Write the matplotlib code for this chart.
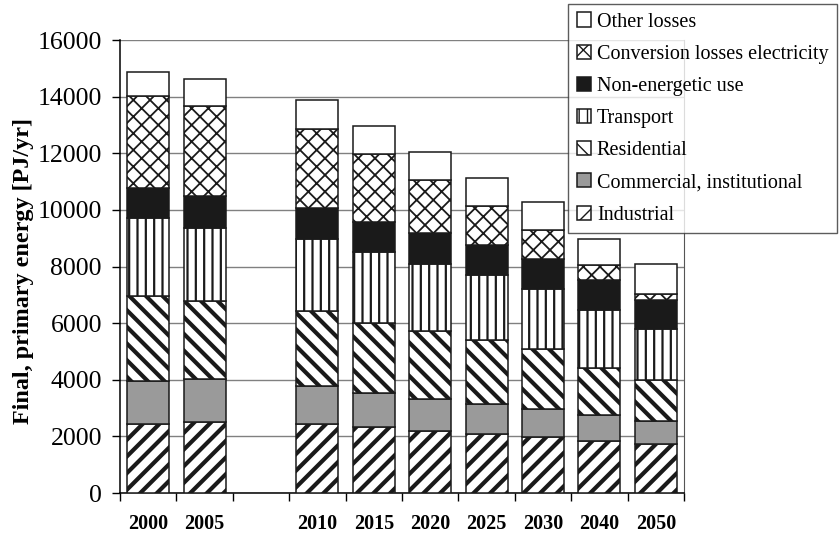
import matplotlib
matplotlib.use('Agg')
import matplotlib.pyplot as plt
import numpy as np

# categories (empty slot between 2005 and 2010 as in the original)
categories = ['2000', '2005', '', '2010', '2015', '2020', '2025', '2030', '2040', '2050']

# PJ/yr
industrial   = [2440, 2520, 2440, 2330, 2190, 2080, 1990, 1830, 1730]
commercial   = [1530, 1500, 1340, 1190, 1140, 1080,  990,  910,  800]
residential  = [3000, 2770, 2660, 2480, 2390, 2240, 2100, 1670, 1450]
transport    = [2730, 2570, 2520, 2500, 2380, 2310, 2130, 2050, 1830]
non_energetic = [1080, 1140, 1120, 1070, 1080, 1050, 1050, 1050, 1000]
conversion   = [3240, 3180, 2790, 2400, 1880, 1370, 1020,  530,  220]
other_losses = [ 850,  950, 1000, 1000,  990,  990, 1010,  920, 1050]

series = [
    ('Industrial', industrial, 'white', '//', 3.0),
    ('Commercial, institutional', commercial, '#9a9a9a', None, 1.0),
    ('Residential', residential, 'white', '\\\\', 3.0),
    ('Transport', transport, 'white', '||', 1.6),
    ('Non-energetic use', non_energetic, '#1a1a1a', None, 1.0),
    ('Conversion losses electricity', conversion, 'white', 'xx', 1.3),
    ('Other losses', other_losses, 'white', None, 1.0),
]

plt.rcParams['font.family'] = ['Liberation Serif', 'DejaVu Serif']

fig = plt.figure(figsize=(8.39, 5.34), dpi=100)
ax = fig.add_axes([120/839, 41/534, 564/839, 453/534])

x = [i for i, c in enumerate(categories) if c]
bottom = np.zeros(len(x))
handles = []
for name, vals, color, hatch, hlw in series:
    plt.rcParams['hatch.linewidth'] = hlw
    bars = ax.bar(x, vals, width=0.745, bottom=bottom, color=color,
                  edgecolor='#1a1a1a', linewidth=1.1, hatch=hatch,
                  label=name, zorder=3)
    for b in bars:
        if hasattr(b, 'set_hatch_linewidth'):
            b.set_hatch_linewidth(hlw)
    handles.append(bars)
    bottom += np.array(vals)

ax.set_xlim(-0.5, len(categories) - 0.5)
ax.set_ylim(0, 16000)
ax.set_yticks(np.arange(0, 16001, 2000))
ax.tick_params(axis='y', labelsize=18.5, direction='out', length=6, width=1, pad=7)
ax.set_xticks(range(len(categories)))
ax.set_xticklabels(categories, fontsize=14.5, fontweight='bold')
ax.set_xticks(np.arange(-0.5, len(categories)), minor=True)
ax.tick_params(axis='x', which='major', length=0, pad=15)
ax.tick_params(axis='x', which='minor', length=6, width=1, direction='out')
ax.grid(axis='y', color='#808080', linewidth=1.0, zorder=0)
ax.set_axisbelow(True)

ax.spines['top'].set_visible(False)
ax.spines['right'].set_color('#555555')
ax.spines['left'].set_linewidth(1.1)
ax.spines['bottom'].set_linewidth(1.1)

ax.set_ylabel('Final, primary energy [PJ/yr]', fontsize=17.4, fontweight='bold')
ax.yaxis.set_label_coords(-0.153, 0.49)

leg = fig.legend(handles[::-1], [s[0] for s in series][::-1],
                 loc='upper right', bbox_to_anchor=(837/839, 1 - 4/534),
                 fontsize=14.5, frameon=True, fancybox=False, edgecolor='#333333',
                 handlelength=0.7, handleheight=0.7, handletextpad=0.3,
                 labelspacing=0.65, borderpad=0.42, borderaxespad=0)
leg.get_frame().set_linewidth(1.0)

plt.savefig('out.png', dpi=100)
